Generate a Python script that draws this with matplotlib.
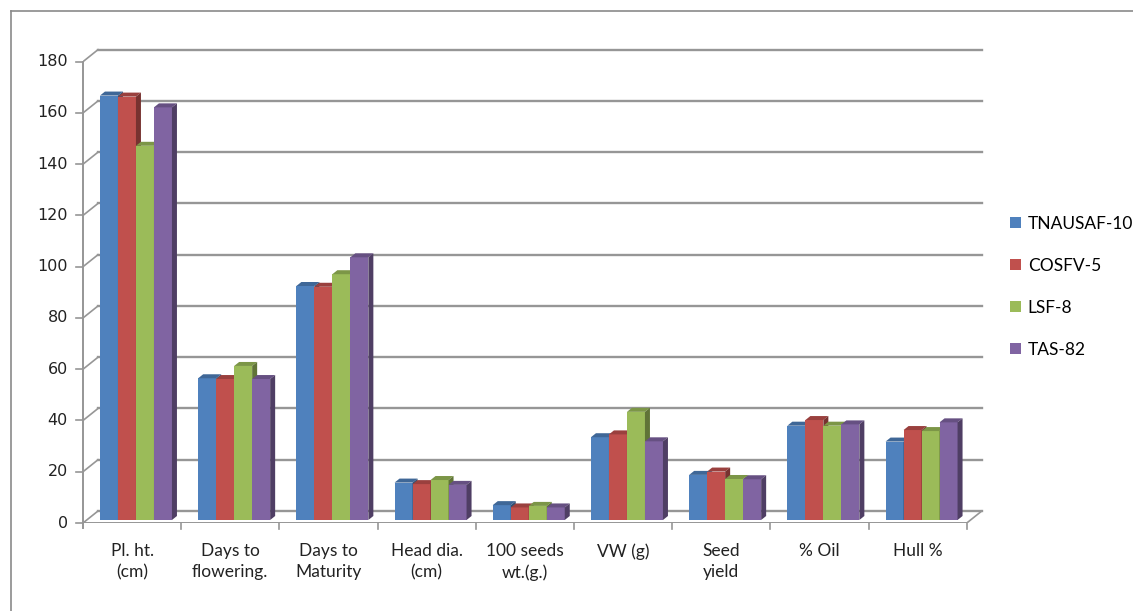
import numpy as np
import matplotlib.pyplot as plt
from matplotlib.patches import Polygon
from matplotlib.lines import Line2D
from matplotlib.colors import to_rgb

# trait labels and the four varieties
categories = ["Pl. ht.\n(cm)", "Days to\nflowering.", "Days to\nMaturity", "Head dia.\n(cm)",
              "100 seeds\nwt.(g.)", "VW (g)", "Seed\nyield", "% Oil", "Hull %"]
series = ["TNAUSAF-10", "COSFV-5", "LSF-8", "TAS-82"]

tnausaf10 = [165.6, 55.3, 91.3, 14.6, 5.8, 32.3, 17.6, 36.8, 30.6]
cosfv5 = [165.2, 55.0, 91.0, 14.0, 4.9, 33.4, 18.9, 39.0, 35.1]
lsf8 = [146.0, 60.1, 95.9, 15.6, 5.5, 42.2, 16.0, 36.8, 34.7]
tas82 = [161.0, 55.0, 102.5, 13.7, 4.9, 30.7, 15.9, 37.3, 38.1]
values = [tnausaf10, cosfv5, lsf8, tas82]

colors = ["#4F81BD", "#C0504D", "#9BBB59", "#8064A2"]
yticks = list(range(0, 181, 20))

def shade(c, f):
    r, g, b = to_rgb(c)
    return (r * f, g * f, b * f)

W, H = 1133, 611
fig = plt.figure(figsize=(W / 100, H / 100), dpi=100)

# pixel scale of the plot: one category = 98.2 px, one unit = 2.563 px
px_cat = 98.2
px_val = 2.563
ax_l, ax_r, ax_t, ax_b = 83, 1000, 40, 523
ax = fig.add_axes([ax_l / W, (H - ax_b) / H, (ax_r - ax_l) / W, (ax_b - ax_t) / H])
ax.set_xlim(0, (ax_r - ax_l) / px_cat)
ax.set_ylim(0, (ax_b - ax_t) / px_val)
ax.axis("off")

# wall depth (back wall sits 15 px right, 12 px up)
DX = 15 / px_cat
DY = 12 / px_val
ncat = len(categories)
grid_c = "#969696"

# back wall gridlines + left wall diagonals
for v in yticks:
    ax.plot([DX, ncat + DX], [v + DY, v + DY], color=grid_c, lw=1.7, zorder=1)
    ax.plot([0, DX], [v, v + DY], color=grid_c, lw=1.2, zorder=1)
    ax.plot([-7 / px_cat, 0], [v, v], color=grid_c, lw=1.2, zorder=1, clip_on=False)
    ax.text(-15 / px_cat, v, str(v), ha="right", va="center", fontsize=11.5,
            family="DejaVu Sans", color="#222222")

# front axis line, floor edges and category ticks
ax.plot([0, 0], [-5 / px_val, 180], color=grid_c, lw=1.4, zorder=1, clip_on=False)
ax.plot([0, ncat], [0, 0], color=grid_c, lw=1.4, zorder=1)
ax.plot([ncat, ncat + DX], [0, DY], color=grid_c, lw=1.2, zorder=1)
for i in range(1, ncat + 1):
    ax.plot([i, i], [0, -6 / px_val], color=grid_c, lw=1.2, clip_on=False, zorder=1)

# bars: front face at 1/4 of the depth, bars 1/3 deep
bw = 18 / px_cat
gap = 13.2 / px_cat
d0x, d0y = 0.25 * DX, 0.25 * DY
bdx, bdy = DX / 3, DY / 3
handles = []
for k, (vals, c) in enumerate(zip(values, colors)):
    x = np.arange(ncat) + gap + k * bw + d0x
    h = ax.bar(x, vals, width=bw, bottom=d0y, align="edge", color=c,
               linewidth=0, zorder=3 + k * 0.01, label=series[k])
    handles.append(h)

# top and side faces drawn per bar, left to right
for i in range(ncat):
    for k, (vals, c) in enumerate(zip(values, colors)):
        x0 = i + gap + k * bw + d0x
        x1 = x0 + bw
        y0 = d0y
        y1 = d0y + vals[i]
        z = 4 + i + k * 0.1
        top = Polygon([(x0, y1), (x1, y1), (x1 + bdx, y1 + bdy), (x0 + bdx, y1 + bdy)],
                      closed=True, facecolor=shade(c, 0.8), edgecolor="none", zorder=z)
        side = Polygon([(x1, y0), (x1 + bdx, y0 + bdy), (x1 + bdx, y1 + bdy), (x1, y1)],
                       closed=True, facecolor=shade(c, 0.62), edgecolor="none", zorder=z)
        front = Polygon([(x0, y0), (x1, y0), (x1, y1), (x0, y1)],
                        closed=True, facecolor=c, edgecolor="none", zorder=z)
        ax.add_patch(front)
        ax.add_patch(top)
        ax.add_patch(side)

# category labels
for i, lab in enumerate(categories):
    ax.text(i + 0.5, -20 / px_val, lab, ha="center", va="top", fontsize=12.5,
            family="Lato", linespacing=1.4, color="#222222", clip_on=False)

# legend on the right
fig.legend(handles=handles, labels=series, loc="upper left",
           bbox_to_anchor=(994 / W, 1 - 200 / H), frameon=False,
           handlelength=0.65, handleheight=0.65, handletextpad=0.4,
           labelspacing=1.5, prop={"family": "Lato", "size": 12.5})

# chart area border (left and top edges)
fig.add_artist(Line2D([11 / W, 11 / W], [0, 1 - 11 / H], color="#8a8a8a", lw=1.2))
fig.add_artist(Line2D([11 / W, 1], [1 - 11 / H, 1 - 11 / H], color="#8a8a8a", lw=1.2))

fig.savefig("out.png", dpi=100)
